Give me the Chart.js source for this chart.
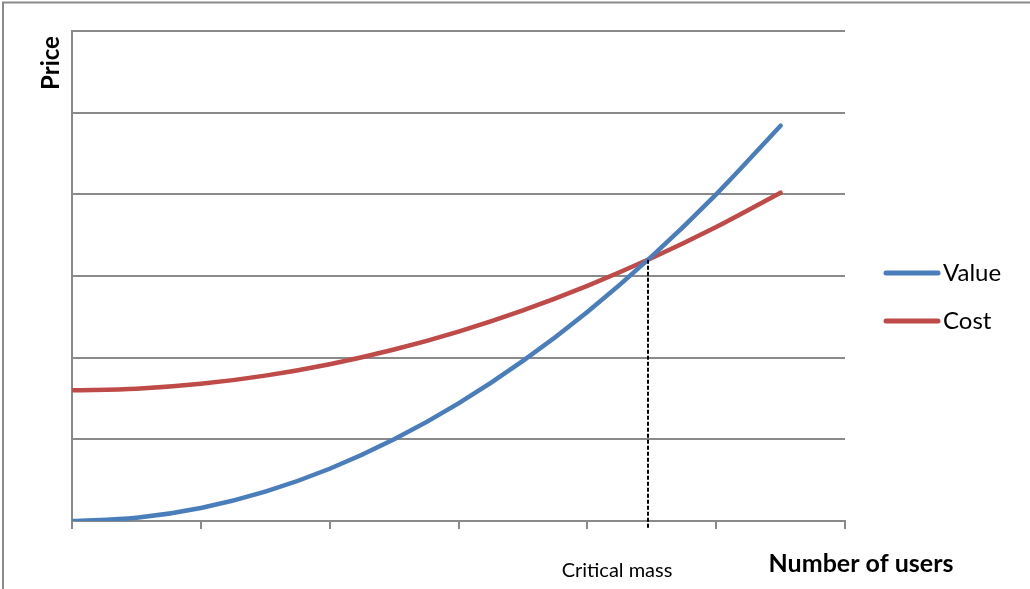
<!DOCTYPE html>
<html>
<head>
<meta charset="utf-8">
<title>Value vs Cost</title>
<script src="https://cdn.jsdelivr.net/npm/chart.js@4/dist/chart.umd.min.js"></script>
<style>
    html, body { margin: 0; padding: 0; background: #fff; }
    #wrap { width: 1030px; height: 589px; position: relative; }
</style>
</head>
<body>
<div id="wrap"><canvas id="chart"></canvas></div>
<script>
// Data
const users = [0, 1, 2, 3, 4, 5, 6, 7, 8, 9, 10, 11];
const valueSeries = [0, 0.04, 0.16, 0.36, 0.64, 1.0, 1.44, 1.96, 2.56, 3.24, 4.0, 4.84];
const costSeries = [1.6, 1.62, 1.68, 1.78, 1.92, 2.1, 2.32, 2.58, 2.88, 3.22, 3.6, 4.02];
const criticalMass = 8.94;      // where the two curves cross
const criticalPrice = 3.2;
const seriesNames = ['Value', 'Cost'];
const seriesColors = ['#4A7EBB', '#BE4B48'];

const axisGrey = '#8a8a8a';
const fontFamily = 'Lato, "Liberation Sans", sans-serif';

function toPoints(xs, ys) {
    return xs.map((x, i) => ({ x: x, y: ys[i] }));
}

// Extra drawing: frame, axis titles, critical mass marker and legend
const annotations = {
    id: 'annotations',
    afterDraw(chart) {
        const ctx = chart.ctx;
        const xs = chart.scales.x;
        const ys = chart.scales.y;
        ctx.save();

        // outer frame (only left and top edges are visible)
        ctx.strokeStyle = axisGrey;
        ctx.lineWidth = 2;
        ctx.beginPath();
        ctx.moveTo(3, 589);
        ctx.lineTo(3, 2.5);
        ctx.lineTo(1030, 2.5);
        ctx.stroke();

        // dashed line at critical mass
        const cx = Math.round(xs.getPixelForValue(criticalMass));
        ctx.strokeStyle = '#000';
        ctx.lineWidth = 2;
        ctx.setLineDash([4, 2]);
        ctx.beginPath();
        ctx.moveTo(cx, ys.getPixelForValue(criticalPrice));
        ctx.lineTo(cx, ys.getPixelForValue(0) + 8);
        ctx.stroke();
        ctx.setLineDash([]);

        ctx.fillStyle = '#000';
        ctx.textBaseline = 'alphabetic';

        ctx.font = '20px ' + fontFamily;
        ctx.textAlign = 'center';
        ctx.fillText('Critical mass', 617, 577);

        ctx.font = 'bold 25px ' + fontFamily;
        ctx.fillText('Number of users', 861, 572);

        ctx.save();
        ctx.font = 'bold 24px ' + fontFamily;
        ctx.translate(59, 63);
        ctx.rotate(-Math.PI / 2);
        ctx.fillText('Price', 0, 0);
        ctx.restore();

        // legend
        ctx.font = '24px ' + fontFamily;
        ctx.textAlign = 'left';
        seriesNames.forEach((name, i) => {
            const y = 273 + i * 48;
            ctx.strokeStyle = seriesColors[i];
            ctx.lineWidth = 5;
            ctx.lineCap = 'round';
            ctx.beginPath();
            ctx.moveTo(886, y);
            ctx.lineTo(938, y);
            ctx.stroke();
            ctx.fillText(name, 943, y + 8);
        });

        ctx.restore();
    }
};

new Chart(document.getElementById('chart'), {
    type: 'scatter',
    data: {
        datasets: [
            {
                label: seriesNames[0],
                data: toPoints(users, valueSeries),
                borderColor: seriesColors[0],
                backgroundColor: seriesColors[0],
                showLine: true,
                borderWidth: 4.5,
                borderCapStyle: 'round',
                pointRadius: 0,
                cubicInterpolationMode: 'monotone'
            },
            {
                label: seriesNames[1],
                data: toPoints(users, costSeries),
                borderColor: seriesColors[1],
                backgroundColor: seriesColors[1],
                showLine: true,
                borderWidth: 4.5,
                borderCapStyle: 'round',
                pointRadius: 0,
                cubicInterpolationMode: 'monotone'
            }
        ]
    },
    options: {
        responsive: true,
        maintainAspectRatio: false,
        animation: false,
        layout: { padding: { left: 72, top: 31, right: 185, bottom: 60 } },
        plugins: {
            legend: { display: false },
            tooltip: { enabled: false }
        },
        scales: {
            x: {
                type: 'linear',
                min: 0,
                max: 12,
                ticks: { display: false, stepSize: 2 },
                grid: { drawOnChartArea: false, drawTicks: true, tickLength: 8, color: axisGrey, lineWidth: 2 },
                border: { color: axisGrey, width: 2 }
            },
            y: {
                min: 0,
                max: 6,
                ticks: { display: false, stepSize: 1 },
                grid: { drawTicks: false, color: axisGrey, lineWidth: 2 },
                border: { color: axisGrey, width: 2 }
            }
        }
    },
    plugins: [annotations]
});
</script>
</body>
</html>
